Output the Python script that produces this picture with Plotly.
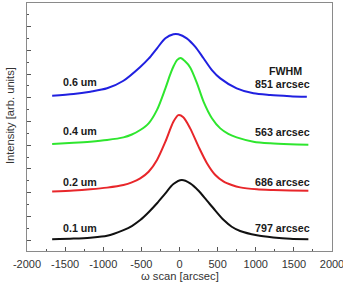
import plotly.graph_objects as go

# ---- data (x in arcsec, y in arb. units) ----
x_01 = [-1670, -1390, -1170, -950, -735, -625, -515, -405, -295, -185, -80, 30, 140, 250, 360, 470, 580, 685, 795, 1015, 1230, 1450, 1690]
y_01 = [0.03, 0.06, 0.10, 0.18, 0.42, 0.59, 0.84, 1.17, 1.55, 1.97, 2.36, 2.53, 2.39, 2.08, 1.66, 1.24, 0.84, 0.56, 0.38, 0.20, 0.11, 0.05, 0.03]

x_02 = [-1670, -1390, -1170, -950, -735, -625, -515, -405, -295, -185, -80, -15, 50, 140, 250, 360, 470, 580, 685, 795, 1015, 1230, 1450, 1690]
y_02 = [2.05, 2.09, 2.14, 2.21, 2.32, 2.43, 2.60, 2.88, 3.38, 4.15, 4.99, 5.27, 5.18, 4.71, 3.94, 3.24, 2.74, 2.46, 2.32, 2.22, 2.14, 2.11, 2.09, 2.08]

x_04 = [-1670, -1390, -1170, -950, -735, -625, -515, -405, -295, -185, -120, -75, -30, 15, 70, 140, 230, 315, 425, 535, 640, 750, 970, 1190, 1450, 1690]
y_04 = [4.05, 4.10, 4.15, 4.22, 4.33, 4.45, 4.64, 4.92, 5.49, 6.40, 7.00, 7.35, 7.60, 7.68, 7.55, 7.28, 6.61, 5.84, 5.14, 4.71, 4.48, 4.33, 4.15, 4.08, 4.04, 4.02]

x_06 = [-1670, -1390, -1170, -950, -735, -515, -405, -295, -185, -80, -15, 95, 205, 315, 425, 535, 750, 970, 1190, 1450, 1670]
y_06 = [6.09, 6.16, 6.26, 6.40, 6.72, 7.30, 7.65, 8.09, 8.51, 8.68, 8.68, 8.51, 8.16, 7.67, 7.17, 6.82, 6.40, 6.19, 6.12, 6.07, 6.04]

series = [
    ("0.1 um", x_01, y_01, "#111111"),
    ("0.2 um", x_02, y_02, "#e8262a"),
    ("0.4 um", x_04, y_04, "#2ee62e"),
    ("0.6 um", x_06, y_06, "#2020e0"),
]

left_labels = ["0.6 um", "0.4 um", "0.2 um", "0.1 um"]
left_label_y = [6.68, 4.61, 2.46, 0.51]
right_labels = ["FWHM", "851 arcsec", "563 arcsec", "686 arcsec", "797 arcsec"]
right_label_y = [7.14, 6.58, 4.57, 2.46, 0.52]

x_ticks = [-2000, -1500, -1000, -500, 0, 500, 1000, 1500, 2000]
x_title = "ω scan [arcsec]"
y_title = "Intensity [arb. units]"

fig = go.Figure()
for name, xs, ys, col in series:
    fig.add_trace(go.Scatter(x=xs, y=ys, mode="lines", name=name,
                             line=dict(color=col, width=2, shape="spline", smoothing=0.8),
                             showlegend=False))

font_lbl = dict(family="Liberation Sans, Arial, sans-serif", size=10.7, color="#1a1a1a", weight="bold")
for t, yy in zip(left_labels, left_label_y):
    fig.add_annotation(x=-1310, y=yy, text=t, showarrow=False, xref="x", yref="y",
                       font=font_lbl, xanchor="center", yanchor="middle")
for t, yy in zip(right_labels, right_label_y):
    fig.add_annotation(x=1355 if t != "FWHM" else 1385, y=yy, text=t, showarrow=False,
                       xref="x", yref="y", font=font_lbl, xanchor="center", yanchor="middle")

axis_font = dict(family="Liberation Sans, Arial, sans-serif", size=11, color="#333333")
title_font = dict(family="Liberation Sans, Arial, sans-serif", size=11.2, color="#333333")

fig.add_annotation(text=x_title, xref="paper", yref="paper", x=0.5, y=0, yshift=-25,
                   showarrow=False, font=title_font, xanchor="center", yanchor="middle")
fig.add_annotation(text=y_title, xref="paper", yref="paper", x=0, y=0.544, xshift=-17,
                   textangle=-90, showarrow=False, font=title_font, xanchor="center", yanchor="middle")

fig.update_layout(
    width=343, height=282,
    margin=dict(l=27, r=11, t=3, b=31),
    paper_bgcolor="white", plot_bgcolor="white",
    font=axis_font,
    xaxis=dict(range=[-2000, 2000], tickvals=x_ticks, ticktext=[str(v) for v in x_ticks],
               showline=True, linecolor="#8a8a8a", linewidth=1, mirror=True,
               ticks="inside", ticklen=4, tickcolor="#555555", tickwidth=1,
               minor=dict(dtick=250, ticks="inside", ticklen=2, tickcolor="#555555"),
               showgrid=False, zeroline=False, automargin=False,
               tickfont=axis_font, ticklabeloverflow="allow", ticklabelstandoff=3),
    yaxis=dict(range=[-0.464, 10.0], dtick=1, tick0=0, showticklabels=False,
               showline=True, linecolor="#8a8a8a", linewidth=1, mirror=True,
               ticks="inside", ticklen=4, tickcolor="#555555", tickwidth=1,
               minor=dict(dtick=0.5, ticks="inside", ticklen=2, tickcolor="#555555"),
               showgrid=False, zeroline=False, automargin=False),
)

fig.write_html("out.html")
